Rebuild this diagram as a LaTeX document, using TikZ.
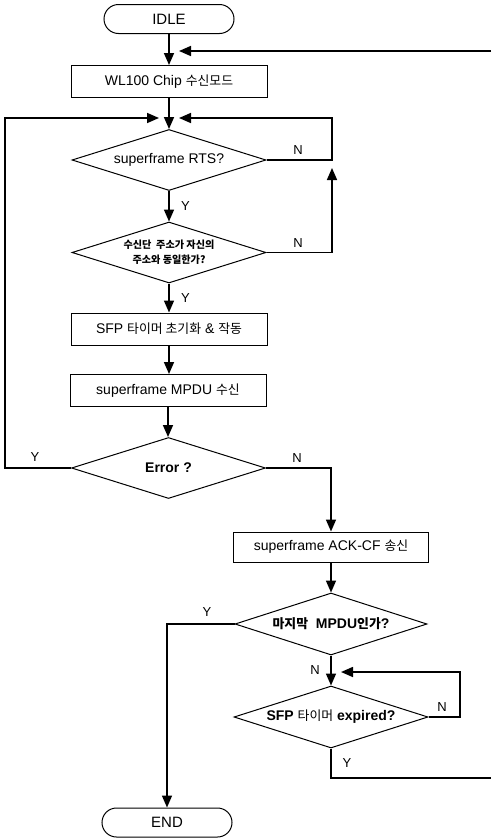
\documentclass[tikz,border=0pt]{standalone}
\usepackage{fontspec}
\setmainfont{Liberation Sans}
\newfontfamily\kr{Noto Sans CJK KR}[Scale=0.92]
\usetikzlibrary{shapes.geometric,arrows.meta}

\begin{document}
\begin{tikzpicture}[x=1pt,y=-1pt,
  base/.style={draw=black,line width=1pt,inner sep=0pt,align=center,
    font=\fontsize{14}{16}\selectfont},
  term/.style={base,rectangle,rounded corners=14.5pt,minimum width=130pt,minimum height=29pt,
    font=\fontsize{15}{17}\selectfont},
  proc/.style={base,rectangle,minimum width=196pt,minimum height=32pt},
  decide/.style={base,diamond,aspect=3.2,minimum width=194pt,minimum height=61pt},
  flow/.style={line width=1.6pt,-{Triangle[length=12pt,width=10pt]}},
  wire/.style={line width=1.6pt},
  yn/.style={font=\fontsize{13}{15}\selectfont}]

\useasboundingbox (0,0) rectangle (491,838);

% main column
\node[term] (idle) at (169,19) {IDLE};
\node[proc] (wl) at (169,81.5) {WL100 Chip {\kr 수신모드}};
\node[decide] (d1) at (169,160) {superframe RTS?};
\node[decide,font=\fontsize{11}{15}\selectfont\kr\bfseries] (d2) at (169,252.5)
  {수신단 \ 주소가 자신의\\주소와 동일한가?};
\node[proc] (sfp) at (169,329) {SFP {\kr 타이머 초기화} \& {\kr 작동}};
\node[proc] (mpdu) at (168,390.5) {superframe MPDU {\kr 수신}};
\node[decide] (err) at (168.5,468) {\bfseries Error ?};

% right column
\node[proc,minimum width=195pt,minimum height=30pt] (ack) at (331,547) {superframe ACK-CF {\kr 송신}};
\node[decide,minimum width=192pt,minimum height=62pt] (d4) at (331,624)
  {\bfseries{\kr 마지막} \ MPDU{\kr 인가}?};
\node[decide,minimum height=62pt] (d5) at (331,717)
  {\bfseries SFP {\kr\mdseries 타이머} expired?};
\node[term] (endn) at (167,822.5) {END};

% loose ends and arrow tips
\coordinate (rin) at (491,51);
\coordinate (rtip) at (179,51);
\coordinate (ltip) at (159,118);
\coordinate (rtip2) at (179,118);
\coordinate (d2tip) at (332,168);
\coordinate (d5tip) at (341,672);
\coordinate (rout) at (491,778);

% straight flow
\draw[flow] (idle) -- (wl);
\draw[flow] (wl) -- (d1);
\draw[flow] (d1) -- node[yn,right=8pt] {Y} (d2);
\draw[flow] (d2) -- node[yn,right=8pt] {Y} (sfp);
\draw[flow] (sfp) -- (mpdu.north -| sfp.south);
\draw[flow] (mpdu) -- (err.north -| mpdu.south);
\draw[flow] (ack) -- (d4);
\draw[flow] (d4) -- (d5);

% return paths
\draw[flow] (rin) -- (rtip);
\draw[flow] (d1.east) -- (332,160) -- (332,118) -- (rtip2);
\draw[flow] (d2.east) -- (332,252.5) -- (d2tip);
\draw[flow] (err.west) -- (5,468) -- (5,118) -- (ltip);
\draw[flow] (err.east) -| (ack.north);
\draw[flow] (d4.west) -| (endn.north);
\draw[flow] (d5.east) -- (460,717) -- (460,672) -- (d5tip);
\draw[wire] (d5.south) |- (rout);

% branch labels
\node[yn] (n1) at (298,150) {N};
\node[yn] (n2) at (298,243) {N};
\node[yn] (y3) at (35,457) {Y};
\node[yn] (n3) at (297,458) {N};
\node[yn] (y4) at (207,612) {Y};
\node[yn] (n4) at (315,670) {N};
\node[yn] (n5) at (442,707) {N};
\node[yn] (y5) at (347,763) {Y};
\end{tikzpicture}
\end{document}
